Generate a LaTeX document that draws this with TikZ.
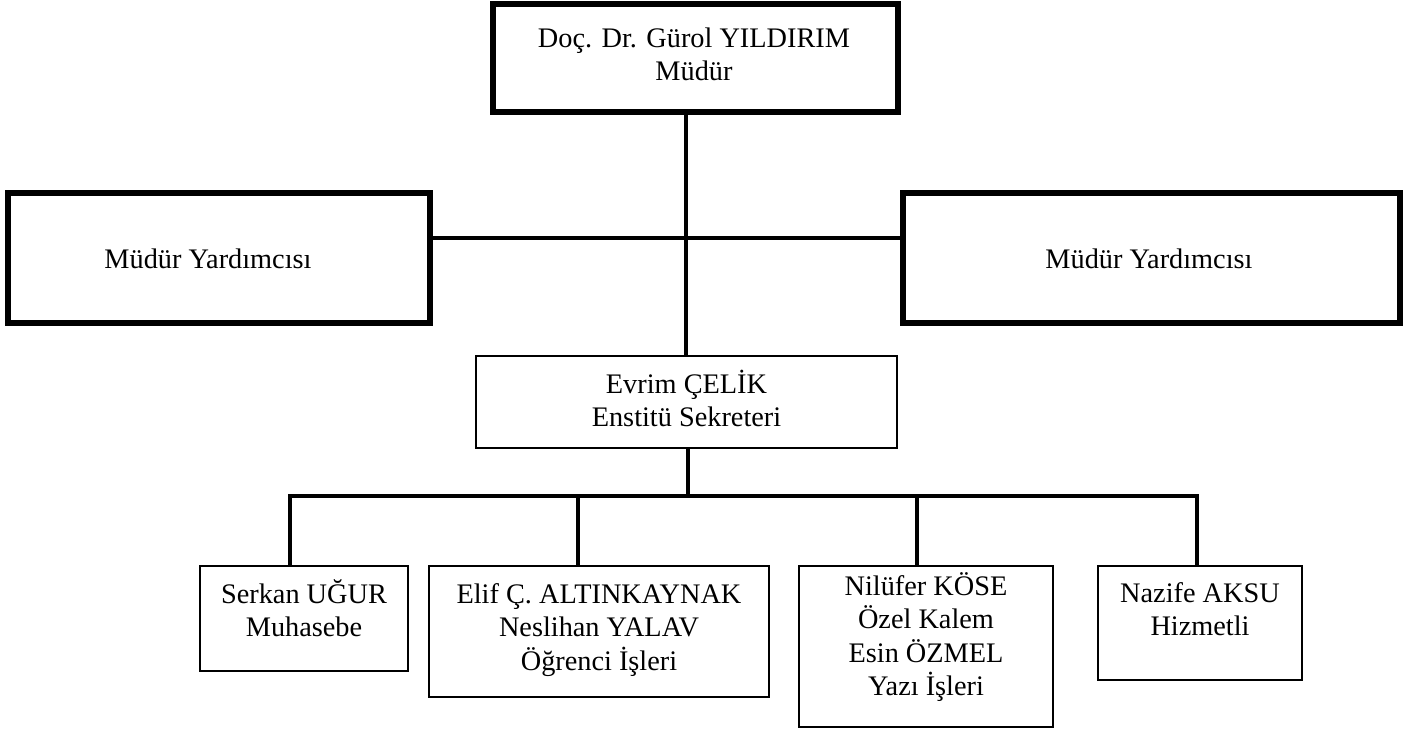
\documentclass[tikz,border=0pt]{standalone}
\usepackage{fontspec}
\setmainfont{Liberation Serif}
\begin{document}
\begin{tikzpicture}[x=1pt,y=-1pt,
  bigbox/.style={draw, line width=5.5pt, inner sep=0pt, outer sep=0pt},
  midbox/.style={draw, line width=2pt, inner sep=0pt, outer sep=0pt},
  smallbox/.style={draw, line width=2.5pt, inner sep=0pt, outer sep=0pt},
  lbl/.style={font=\fontsize{28.3}{33.5}\selectfont, align=center, anchor=north, inner sep=0pt},
  conn/.style={line width=4pt, line join=miter}]
\useasboundingbox (0,0) rectangle (1414,729);
% boxes
\node[bigbox, minimum width=405pt, minimum height=108pt] (dir) at (695.5,58) {};
\node[bigbox, minimum width=422pt, minimum height=130pt] (left) at (219,258) {};
\node[bigbox, minimum width=497pt, minimum height=130pt] (right) at (1151.5,258) {};
\node[midbox, minimum width=421pt, minimum height=92pt] (evrim) at (686.5,402) {};
\node[smallbox, minimum width=208pt, minimum height=105pt] (serkan) at (304,618.5) {};
\node[smallbox, minimum width=340pt, minimum height=131pt] (elif) at (599,631.5) {};
\node[smallbox, minimum width=254pt, minimum height=161pt] (nilufer) at (926,646.5) {};
\node[smallbox, minimum width=204pt, minimum height=114pt] (nazife) at (1200,623) {};
% texts
\node[lbl] (tdir) at (694,21) {\rule{0pt}{26pt}Doç. Dr. Gürol YILDIRIM\\Müdür};
\node[lbl] (tleft) at (208,242) {\rule{0pt}{26pt}Müdür Yardımcısı};
\node[lbl] (tright) at (1149,242) {\rule{0pt}{26pt}Müdür Yardımcısı};
\node[lbl] (tevrim) at (686.5,367) {\rule{0pt}{26pt}Evrim ÇELİK\\Enstitü Sekreteri};
\node[lbl] (tserkan) at (304,577) {\rule{0pt}{26pt}Serkan UĞUR\\Muhasebe};
\node[lbl] (telif) at (599,577) {\rule{0pt}{26pt}Elif Ç. ALTINKAYNAK\\Neslihan YALAV\\Öğrenci İşleri};
\node[lbl] (tnilufer) at (926,569) {\rule{0pt}{26pt}Nilüfer KÖSE\\Özel Kalem\\Esin ÖZMEL\\Yazı İşleri};
\node[lbl] (tnazife) at (1200,576) {\rule{0pt}{26pt}Nazife AKSU\\Hizmetli};
% connectors
\coordinate (hl) at (686,238);
\coordinate (bus) at (688,496);
\coordinate (b1) at (290,496);
\coordinate (b2) at (578,496);
\coordinate (b3) at (917,496);
\coordinate (b4) at (1197,496);
\draw[conn] (dir.south -| hl) -- (evrim.north -| hl);
\draw[conn] (left.east |- hl) -- (right.west |- hl);
\draw[conn] (evrim.south -| bus) -- (bus);
\draw[conn] (b1 |- serkan.north) -- (b1) -- (b4) -- (b4 |- nazife.north);
\draw[conn] (b2) -- (b2 |- elif.north);
\draw[conn] (b3) -- (b3 |- nilufer.north);
\end{tikzpicture}
\end{document}
